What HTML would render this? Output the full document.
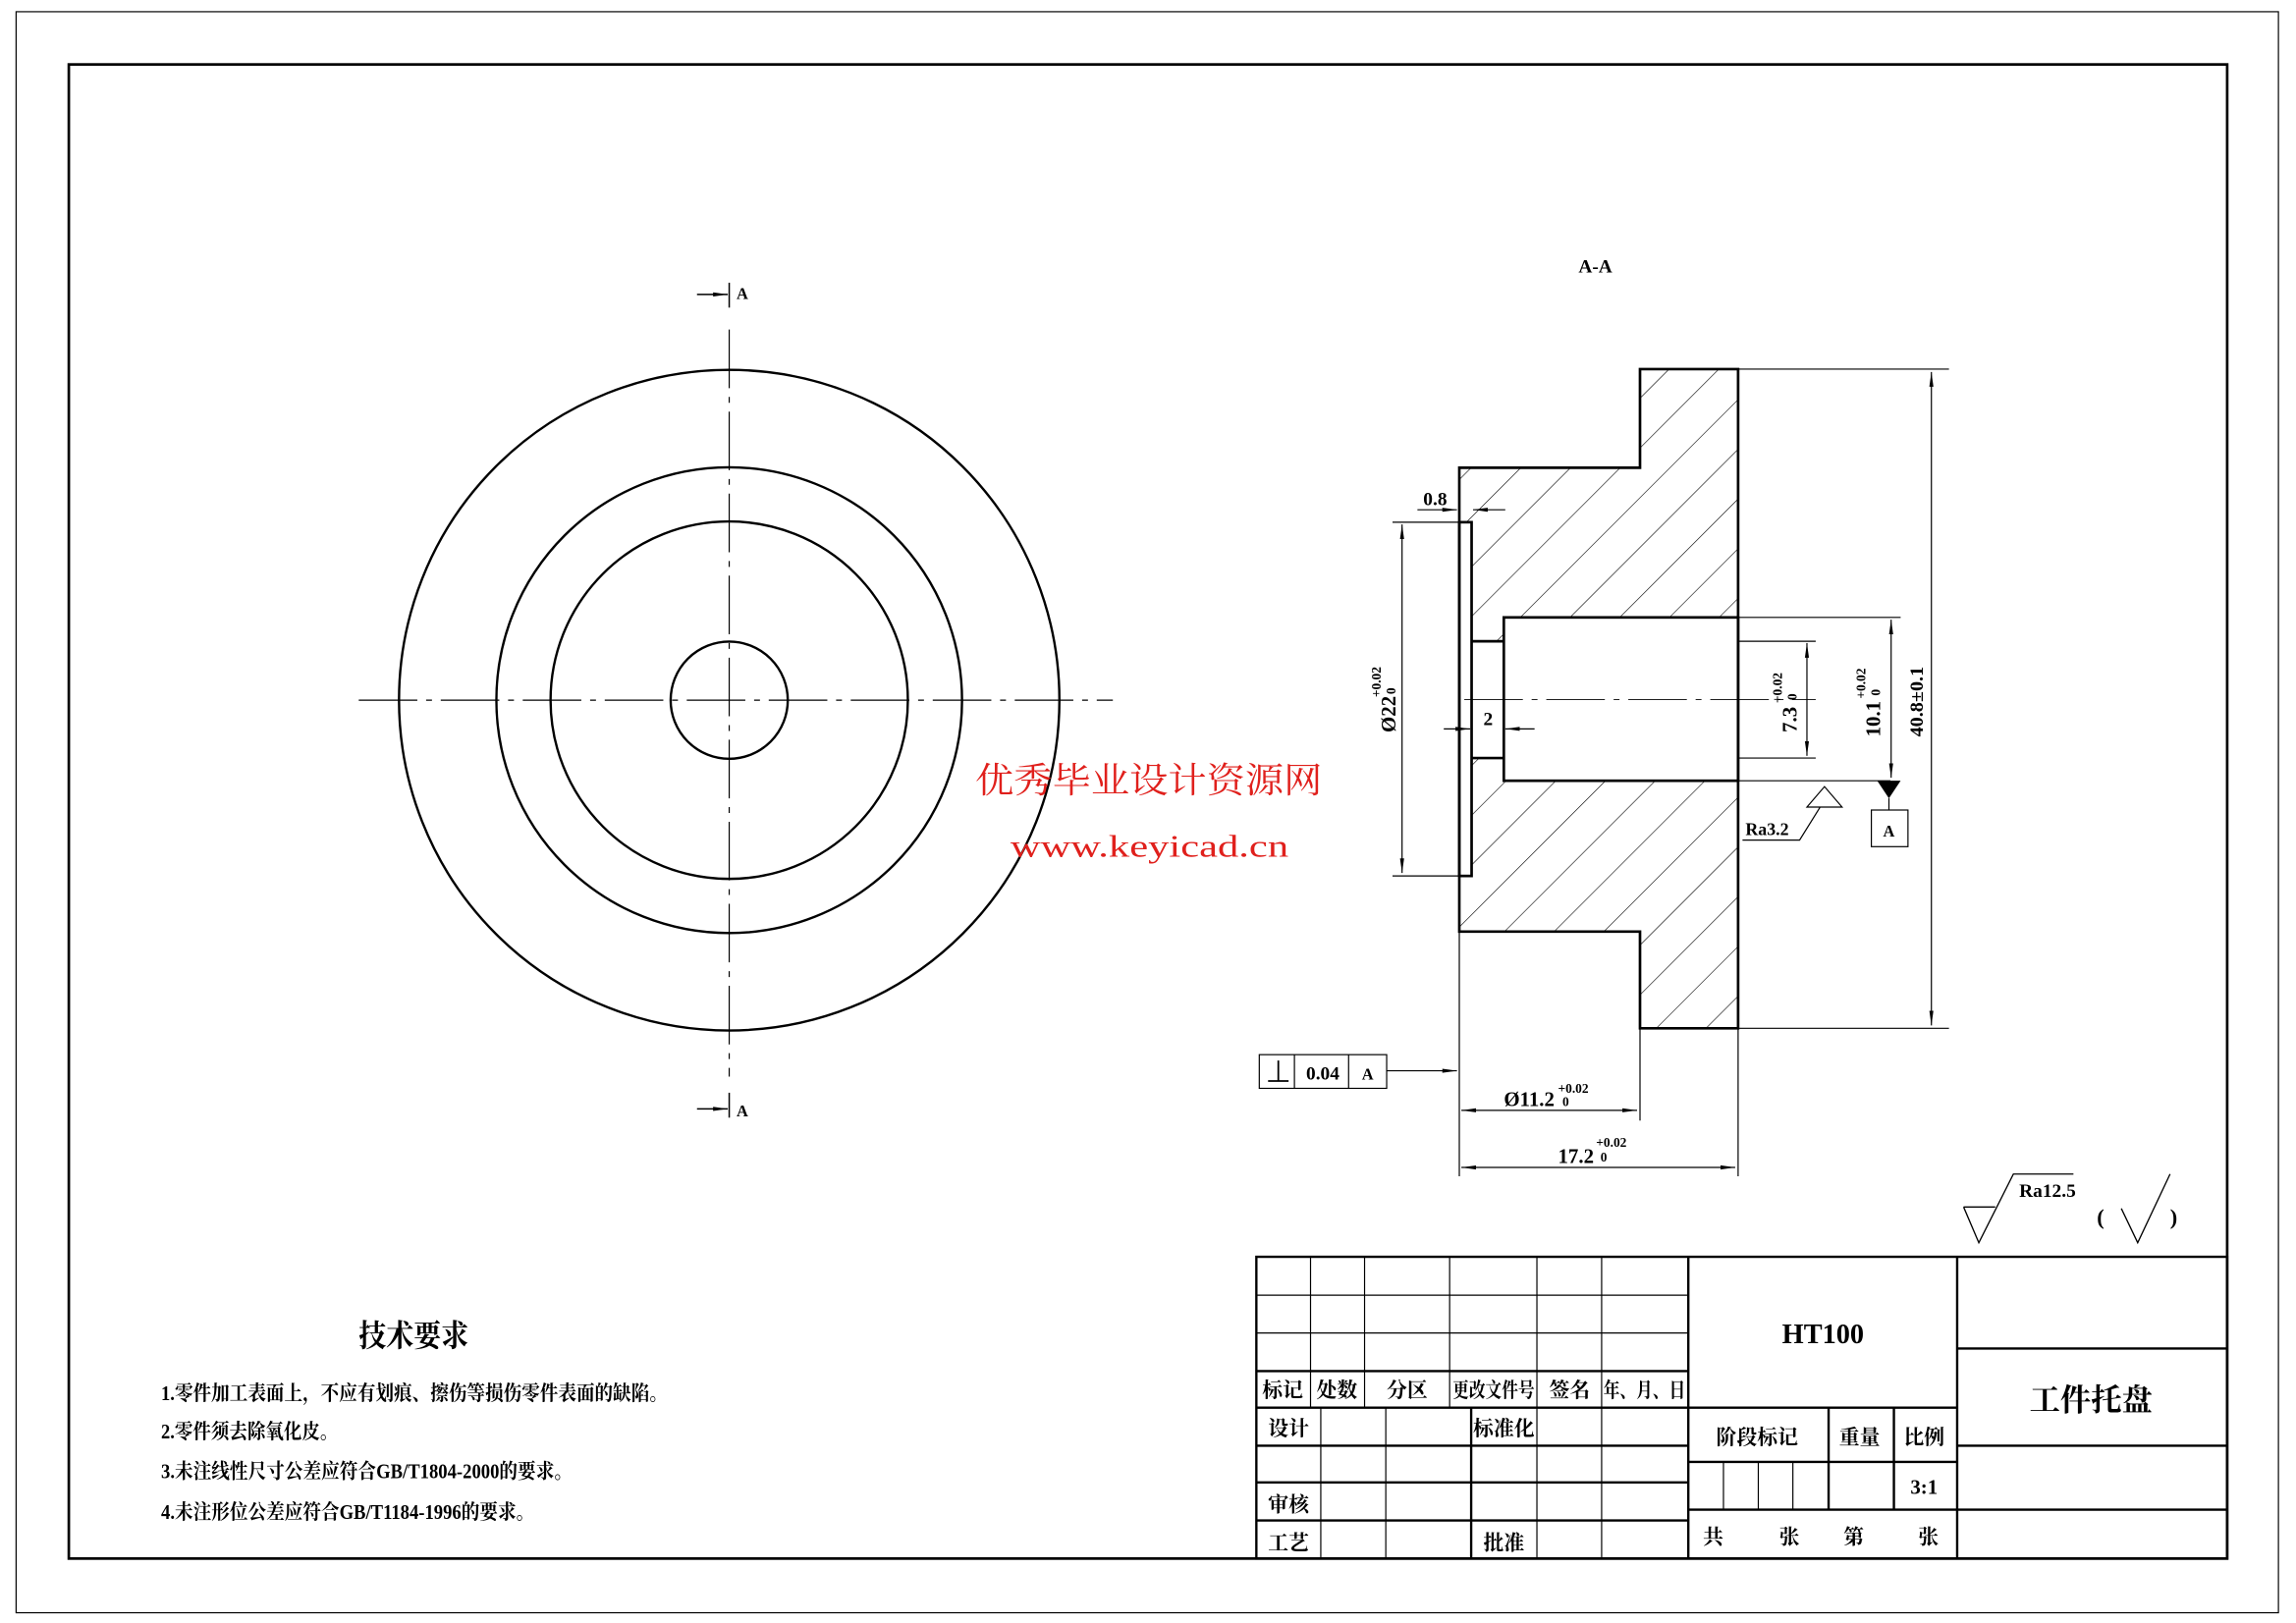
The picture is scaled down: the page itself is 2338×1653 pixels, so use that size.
<!DOCTYPE html>
<html><head><meta charset="utf-8"><style>
html,body{margin:0;padding:0;background:#fff;}
svg{display:block;}
text{font-family:"Liberation Sans","Noto Sans CJK SC",sans-serif;fill:#000;}
.cj{font-family:"Liberation Serif","Noto Serif CJK SC",serif;font-weight:bold;}
</style></head><body>
<svg width="2338" height="1653" viewBox="0 0 1568 1108" preserveAspectRatio="none" xmlns="http://www.w3.org/2000/svg">
<defs>
<marker id="ar" viewBox="0 0 10 4" refX="10" refY="2" markerWidth="10" markerHeight="4" markerUnits="userSpaceOnUse" orient="auto-start-reverse"><path d="M0,0.6 L10,2 L0,3.4z" fill="#000"/></marker>
<pattern id="h" patternUnits="userSpaceOnUse" width="24" height="24" patternTransform="rotate(45)"><line x1="0" y1="0" x2="0" y2="24" stroke="#000" stroke-width="0.8"/></pattern>
</defs>
<rect width="1568" height="1108" fill="#fff"/>
<rect x="11" y="8" width="1545" height="1093" fill="none" stroke="#000" stroke-width="0.8"/>
<rect x="47" y="44" width="1474" height="1020" fill="none" stroke="#000" stroke-width="1.8"/>

<!-- front view -->
<g fill="none" stroke="#000" stroke-width="1.6">
<circle cx="498" cy="478" r="225.5"/>
<circle cx="498" cy="478" r="159"/>
<circle cx="498" cy="478" r="122"/>
<circle cx="498" cy="478" r="40"/>
</g>
<g stroke="#000" stroke-width="0.8" stroke-dasharray="40,6,4,6">
<line x1="245" y1="478" x2="760" y2="478"/>
<line x1="498" y1="225" x2="498" y2="735"/>
</g>
<g stroke="#000" stroke-width="1">
<line x1="498" y1="193" x2="498" y2="210"/>
<line x1="498" y1="746" x2="498" y2="763"/>
<line x1="476" y1="201" x2="497" y2="201" marker-end="url(#ar)"/>
<line x1="476" y1="757" x2="497" y2="757" marker-end="url(#ar)"/>
</g>
<text x="503" y="204" font-size="11" class="cj">A</text>
<text x="503" y="762" font-size="11" class="cj">A</text>

<!-- section view -->
<text x="1078" y="186" font-size="13" class="cj">A-A</text>
<path d="M1120,252 H1187 V702 H1120 V636 H996.6 V319.3 H1120 Z" fill="url(#h)" stroke="none"/>
<rect x="996.6" y="356.5" width="8.4" height="241.5" fill="#fff"/>
<rect x="1005" y="437.8" width="22" height="79.7" fill="#fff"/>
<rect x="1027" y="421.5" width="160" height="111.5" fill="#fff"/>
<g fill="none" stroke="#000" stroke-width="1.8">
<path d="M1120,252 H1187 V702 H1120 V636 H996.6 V319.3 H1120 Z"/>
<rect x="996.6" y="356.5" width="8.4" height="241.5"/>
<path d="M1005,437.8 H1027 M1005,517.5 H1027"/>
<rect x="1027" y="421.5" width="160" height="111.5"/>
</g>
<line x1="1000" y1="477.6" x2="1240" y2="477.6" stroke="#000" stroke-width="0.6" stroke-dasharray="40,6,4,6"/>
<g stroke="#000" stroke-width="0.8" fill="none">
<line x1="1187" y1="252" x2="1331" y2="252"/>
<line x1="1187" y1="702" x2="1331" y2="702"/>
<line x1="1319" y1="254" x2="1319" y2="700" marker-start="url(#ar)" marker-end="url(#ar)"/>
<line x1="1187" y1="421.5" x2="1298" y2="421.5"/>
<line x1="1291.5" y1="423" x2="1291.5" y2="531" marker-start="url(#ar)" marker-end="url(#ar)"/>
<line x1="1187" y1="533" x2="1291" y2="533"/>
<line x1="1187" y1="437.8" x2="1240" y2="437.8"/>
<line x1="1187" y1="517.5" x2="1240" y2="517.5"/>
<line x1="1234" y1="439" x2="1234" y2="516" marker-start="url(#ar)" marker-end="url(#ar)"/>
<line x1="951" y1="356.5" x2="996" y2="356.5"/>
<line x1="951" y1="598" x2="996" y2="598"/>
<line x1="957.5" y1="358" x2="957.5" y2="596" marker-start="url(#ar)" marker-end="url(#ar)"/>
<line x1="968" y1="348" x2="995" y2="348" marker-end="url(#ar)"/>
<line x1="1028" y1="348" x2="1006" y2="348" marker-end="url(#ar)"/>
<line x1="986" y1="497.6" x2="1004" y2="497.6" marker-end="url(#ar)"/>
<line x1="1048" y1="497.6" x2="1028" y2="497.6" marker-end="url(#ar)"/>
<line x1="996.6" y1="636" x2="996.6" y2="803"/>
<line x1="1120" y1="702" x2="1120" y2="765"/>
<line x1="1187" y1="702" x2="1187" y2="803"/>
<line x1="998" y1="758" x2="1118" y2="758" marker-start="url(#ar)" marker-end="url(#ar)"/>
<line x1="998" y1="797" x2="1185" y2="797" marker-start="url(#ar)" marker-end="url(#ar)"/>
<path d="M1190,573.5 H1229 L1243,551 M1234,551 L1246,537 L1258,551 Z"/>
<line x1="1290" y1="545" x2="1290" y2="553"/>
<rect x="1278" y="553" width="25" height="25"/>
<rect x="860" y="720" width="87" height="23"/>
<line x1="884" y1="720" x2="884" y2="743"/>
<line x1="921" y1="720" x2="921" y2="743"/>
<line x1="947" y1="731" x2="995" y2="731" marker-end="url(#ar)"/>
<path d="M866,738 H880 M873,738 V724" stroke-width="1.2"/>
</g>
<path d="M1282,533 H1298 L1290,545 Z" fill="#000"/>
<text x="1290" y="571" font-size="11" class="cj" text-anchor="middle">A</text>
<text x="1192" y="570" font-size="12" class="cj">Ra3.2</text>
<text x="892" y="737" font-size="13" class="cj">0.04</text>
<text x="934" y="737" font-size="11" class="cj" text-anchor="middle">A</text>
<text x="972" y="345" font-size="13" class="cj">0.8</text>
<text x="1013" y="495" font-size="13" class="cj">2</text>
<text x="1027" y="755" font-size="14" class="cj">Ø11.2</text>
<text x="1064" y="746" font-size="9" class="cj">+0.02</text>
<text x="1067" y="755" font-size="9" class="cj">0</text>
<text x="1064" y="794" font-size="14" class="cj">17.2</text>
<text x="1090" y="783" font-size="9" class="cj">+0.02</text>
<text x="1093" y="793" font-size="9" class="cj">0</text>
<g transform="translate(953,500) rotate(-90)"><text font-size="14" class="cj">Ø22</text><text x="24" y="-10" font-size="9" class="cj">+0.02</text><text x="26" y="0" font-size="9" class="cj">0</text></g>
<g transform="translate(1227,500) rotate(-90)"><text font-size="14" class="cj">7.3</text><text x="20" y="-10" font-size="9" class="cj">+0.02</text><text x="22" y="0" font-size="9" class="cj">0</text></g>
<g transform="translate(1284,503) rotate(-90)"><text font-size="14" class="cj">10.1</text><text x="26" y="-10" font-size="9" class="cj">+0.02</text><text x="28" y="0" font-size="9" class="cj">0</text></g>
<g transform="translate(1313,503) rotate(-90)"><text font-size="13" class="cj" textLength="48" lengthAdjust="spacingAndGlyphs">40.8±0.1</text></g>

<text x="666" y="541" font-size="24" style="fill:#e0201c;font-family:'Liberation Serif','Noto Serif CJK SC',serif" textLength="237" lengthAdjust="spacingAndGlyphs">优秀毕业设计资源网</text>
<text x="690" y="585" font-size="21" style="fill:#e0201c;font-family:'Liberation Serif',serif" textLength="190" lengthAdjust="spacingAndGlyphs">www.keyicad.cn</text>

<g fill="none" stroke="#000" stroke-width="0.9">
<path d="M1341,824 H1362.6 M1341,824 L1351.4,848.4 L1375,801.5 H1416"/>
<path d="M1448.7,825 L1459.9,848.4 L1482,801.5"/>
</g>
<text x="1379" y="817" font-size="13" class="cj">Ra12.5</text>
<text x="1432" y="836" font-size="15" class="cj">(</text>
<text x="1482" y="836" font-size="15" class="cj">)</text>

<text x="245" y="919" font-size="21" class="cj" textLength="75" lengthAdjust="spacingAndGlyphs">技术要求</text>
<text x="110" y="956" font-size="14" class="cj" textLength="346" lengthAdjust="spacingAndGlyphs">1.零件加工表面上，不应有划痕、擦伤等损伤零件表面的缺陷。</text>
<text x="110" y="982" font-size="14" class="cj" textLength="121" lengthAdjust="spacingAndGlyphs">2.零件须去除氧化皮。</text>
<text x="110" y="1009" font-size="14" class="cj" textLength="281" lengthAdjust="spacingAndGlyphs">3.未注线性尺寸公差应符合GB/T1804-2000的要求。</text>
<text x="110" y="1037" font-size="14" class="cj" textLength="255" lengthAdjust="spacingAndGlyphs">4.未注形位公差应符合GB/T1184-1996的要求。</text>

<g stroke="#000" fill="none">
<g stroke-width="0.8">
<path d="M895,858 V961 M931.9,858 V961 M990,858 V961 M1049.6,858 V1064 M1093.8,858 V1064"/>
<path d="M858,884.2 H1153 M858,910 H1153"/>
<path d="M902,961 V1064 M946.4,961 V1064"/>
<path d="M1177,998 V1030.6 M1200.8,998 V1030.6 M1224.4,998 V1030.6"/>
</g>
<g stroke-width="1.6">
<rect x="858" y="858" width="663" height="206"/>
<path d="M858,936 H1153 M858,961 H1153 M858,987 H1153 M858,1012 H1153 M858,1038 H1153"/>
<path d="M1004.7,961 V1064 M1153,858 V1064 M1336.6,858 V1064"/>
<path d="M1153,961 H1336.6 M1153,998 H1336.6 M1153,1030.6 H1521 M1336.6,920.6 H1521 M1336.6,987 H1521"/>
<path d="M1248.8,961 V1030.6 M1293.4,961 V1030.6"/>
</g>
</g>
<g font-size="14">
<text x="876" y="954" text-anchor="middle" class="cj">标记</text>
<text x="913" y="954" text-anchor="middle" class="cj">处数</text>
<text x="961" y="954" text-anchor="middle" class="cj">分区</text>
<text x="1020" y="954" text-anchor="middle" class="cj" textLength="56" lengthAdjust="spacingAndGlyphs">更改文件号</text>
<text x="1072" y="954" text-anchor="middle" class="cj">签名</text>
<text x="1123" y="954" text-anchor="middle" class="cj" textLength="56" lengthAdjust="spacingAndGlyphs">年、月、日</text>
<text x="880" y="980" text-anchor="middle" class="cj">设计</text>
<text x="1027" y="980" text-anchor="middle" class="cj">标准化</text>
<text x="880" y="1032" text-anchor="middle" class="cj">审核</text>
<text x="880" y="1058" text-anchor="middle" class="cj">工艺</text>
<text x="1027" y="1058" text-anchor="middle" class="cj">批准</text>
<text x="1200" y="986" text-anchor="middle" class="cj">阶段标记</text>
<text x="1270" y="986" text-anchor="middle" class="cj">重量</text>
<text x="1314" y="986" text-anchor="middle" class="cj">比例</text>
<text x="1314" y="1020" text-anchor="middle" class="cj">3:1</text>
<text x="1170" y="1054" text-anchor="middle" class="cj">共</text>
<text x="1222" y="1054" text-anchor="middle" class="cj">张</text>
<text x="1266" y="1054" text-anchor="middle" class="cj">第</text>
<text x="1317" y="1054" text-anchor="middle" class="cj">张</text>
</g>
<text x="1245" y="917" font-size="19" text-anchor="middle" class="cj">HT100</text>
<text x="1428" y="963" font-size="21" text-anchor="middle" class="cj">工件托盘</text>
</svg>
</body></html>
